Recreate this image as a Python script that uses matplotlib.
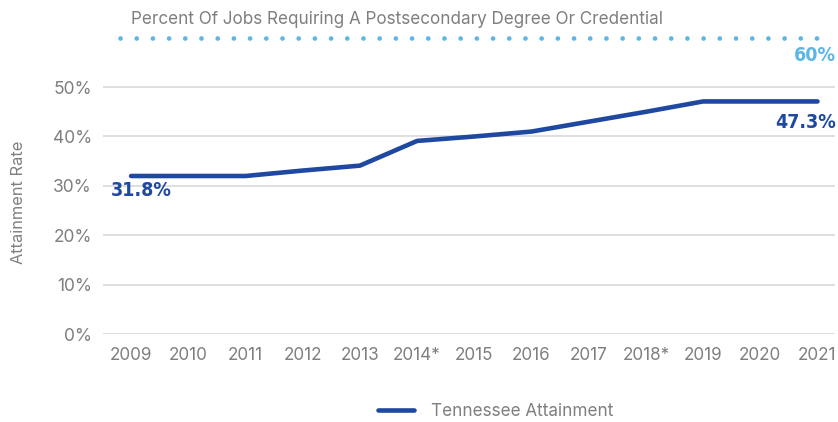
import matplotlib

matplotlib.use("Agg")
import matplotlib.pyplot as plt
import numpy as np
from matplotlib import font_manager

# =========================
# Datos
# =========================

anios = ["2009", "2010", "2011", "2012", "2013", "2014*", "2015",
         "2016", "2017", "2018*", "2019", "2020", "2021"]
tasa = [32.0, 32.0, 32.0, 33.1, 34.1, 39.1, 40.0, 41.0, 43.0, 45.0, 47.1, 47.1, 47.1]
meta_empleos = 60
etiqueta_inicio = "31.8%"
etiqueta_fin = "47.3%"
titulo_meta = "Percent Of Jobs Requiring A Postsecondary Degree Or Credential"
serie = "Tennessee Attainment"

AZUL = "#1f48a0"
CELESTE = "#5cb6e6"
GRIS = "#7f7f7f"
GRILLA = "#d9d9d9"

plt.rcParams["font.family"] = ["Inter", "DejaVu Sans"]


def fuente_condensada(tamano):
    """Busca una fuente condensada en negrita; si no hay, usa DejaVu Sans."""
    for f in font_manager.fontManager.ttflist:
        nombre = f.fname.lower()
        if ("condensed" in nombre or "narrow" in nombre) and "bold" in nombre \
                and "oblique" not in nombre and "italic" not in nombre:
            return font_manager.FontProperties(fname=f.fname, size=tamano)
    return font_manager.FontProperties(family="DejaVu Sans", weight="bold",
                                       size=tamano * 0.85)


fp_valores = fuente_condensada(14)

fig = plt.figure(figsize=(8.38, 4.22), dpi=100)
ax = fig.add_axes([0.123, 0.2085, 0.873, 0.7255])

x = np.arange(len(anios))
ax.plot(x, tasa, color=AZUL, linewidth=3.3, solid_capstyle="round",
        solid_joinstyle="round", label=serie, zorder=3)

# linea punteada de la meta
ax.plot([-0.19, x[-1]], [meta_empleos, meta_empleos], color=CELESTE, linewidth=3.4,
        linestyle=(0, (0.01, 3.42)), dash_capstyle="round", zorder=2)

ax.set_xlim(-0.49, 12.3)
ax.set_ylim(0, 62)
ax.set_yticks(np.arange(0, 51, 10))
ax.set_yticklabels([f"{v}%" for v in range(0, 51, 10)])
ax.set_xticks(x)
ax.set_xticklabels(anios)
ax.tick_params(axis="both", length=0, colors=GRIS)
ax.tick_params(axis="x", pad=9, labelsize=12.3)
ax.tick_params(axis="y", pad=8, labelsize=12.5)
ax.grid(True, axis="y", color=GRILLA, linewidth=1.2)
ax.set_axisbelow(True)
for lado in ax.spines.values():
    lado.set_visible(False)

ax.set_ylabel("Attainment Rate", color=GRIS, fontsize=11.8)
ax.yaxis.set_label_coords(-0.105, 0.43)

# etiquetas de valores
ax.text(-0.35, tasa[0] - 1.0, etiqueta_inicio, color=AZUL, fontproperties=fp_valores,
        ha="left", va="top")
ax.text(12.33, tasa[-1] - 2.3, etiqueta_fin, color=AZUL, fontproperties=fp_valores,
        ha="right", va="top")
ax.text(12.33, meta_empleos - 1.6, f"{meta_empleos}%", color=CELESTE,
        fontproperties=fp_valores, ha="right", va="top", clip_on=False)

fig.text(131 / 838, 1 - 19 / 422, titulo_meta, color=GRIS, fontsize=12.3,
         ha="left", va="center")

fig.legend(loc="center", bbox_to_anchor=(0.592, 1 - 411 / 422), frameon=False,
           fontsize=12.3, labelcolor=GRIS, handlelength=2.1, handletextpad=1.0)

fig.savefig("out.png", dpi=100)
